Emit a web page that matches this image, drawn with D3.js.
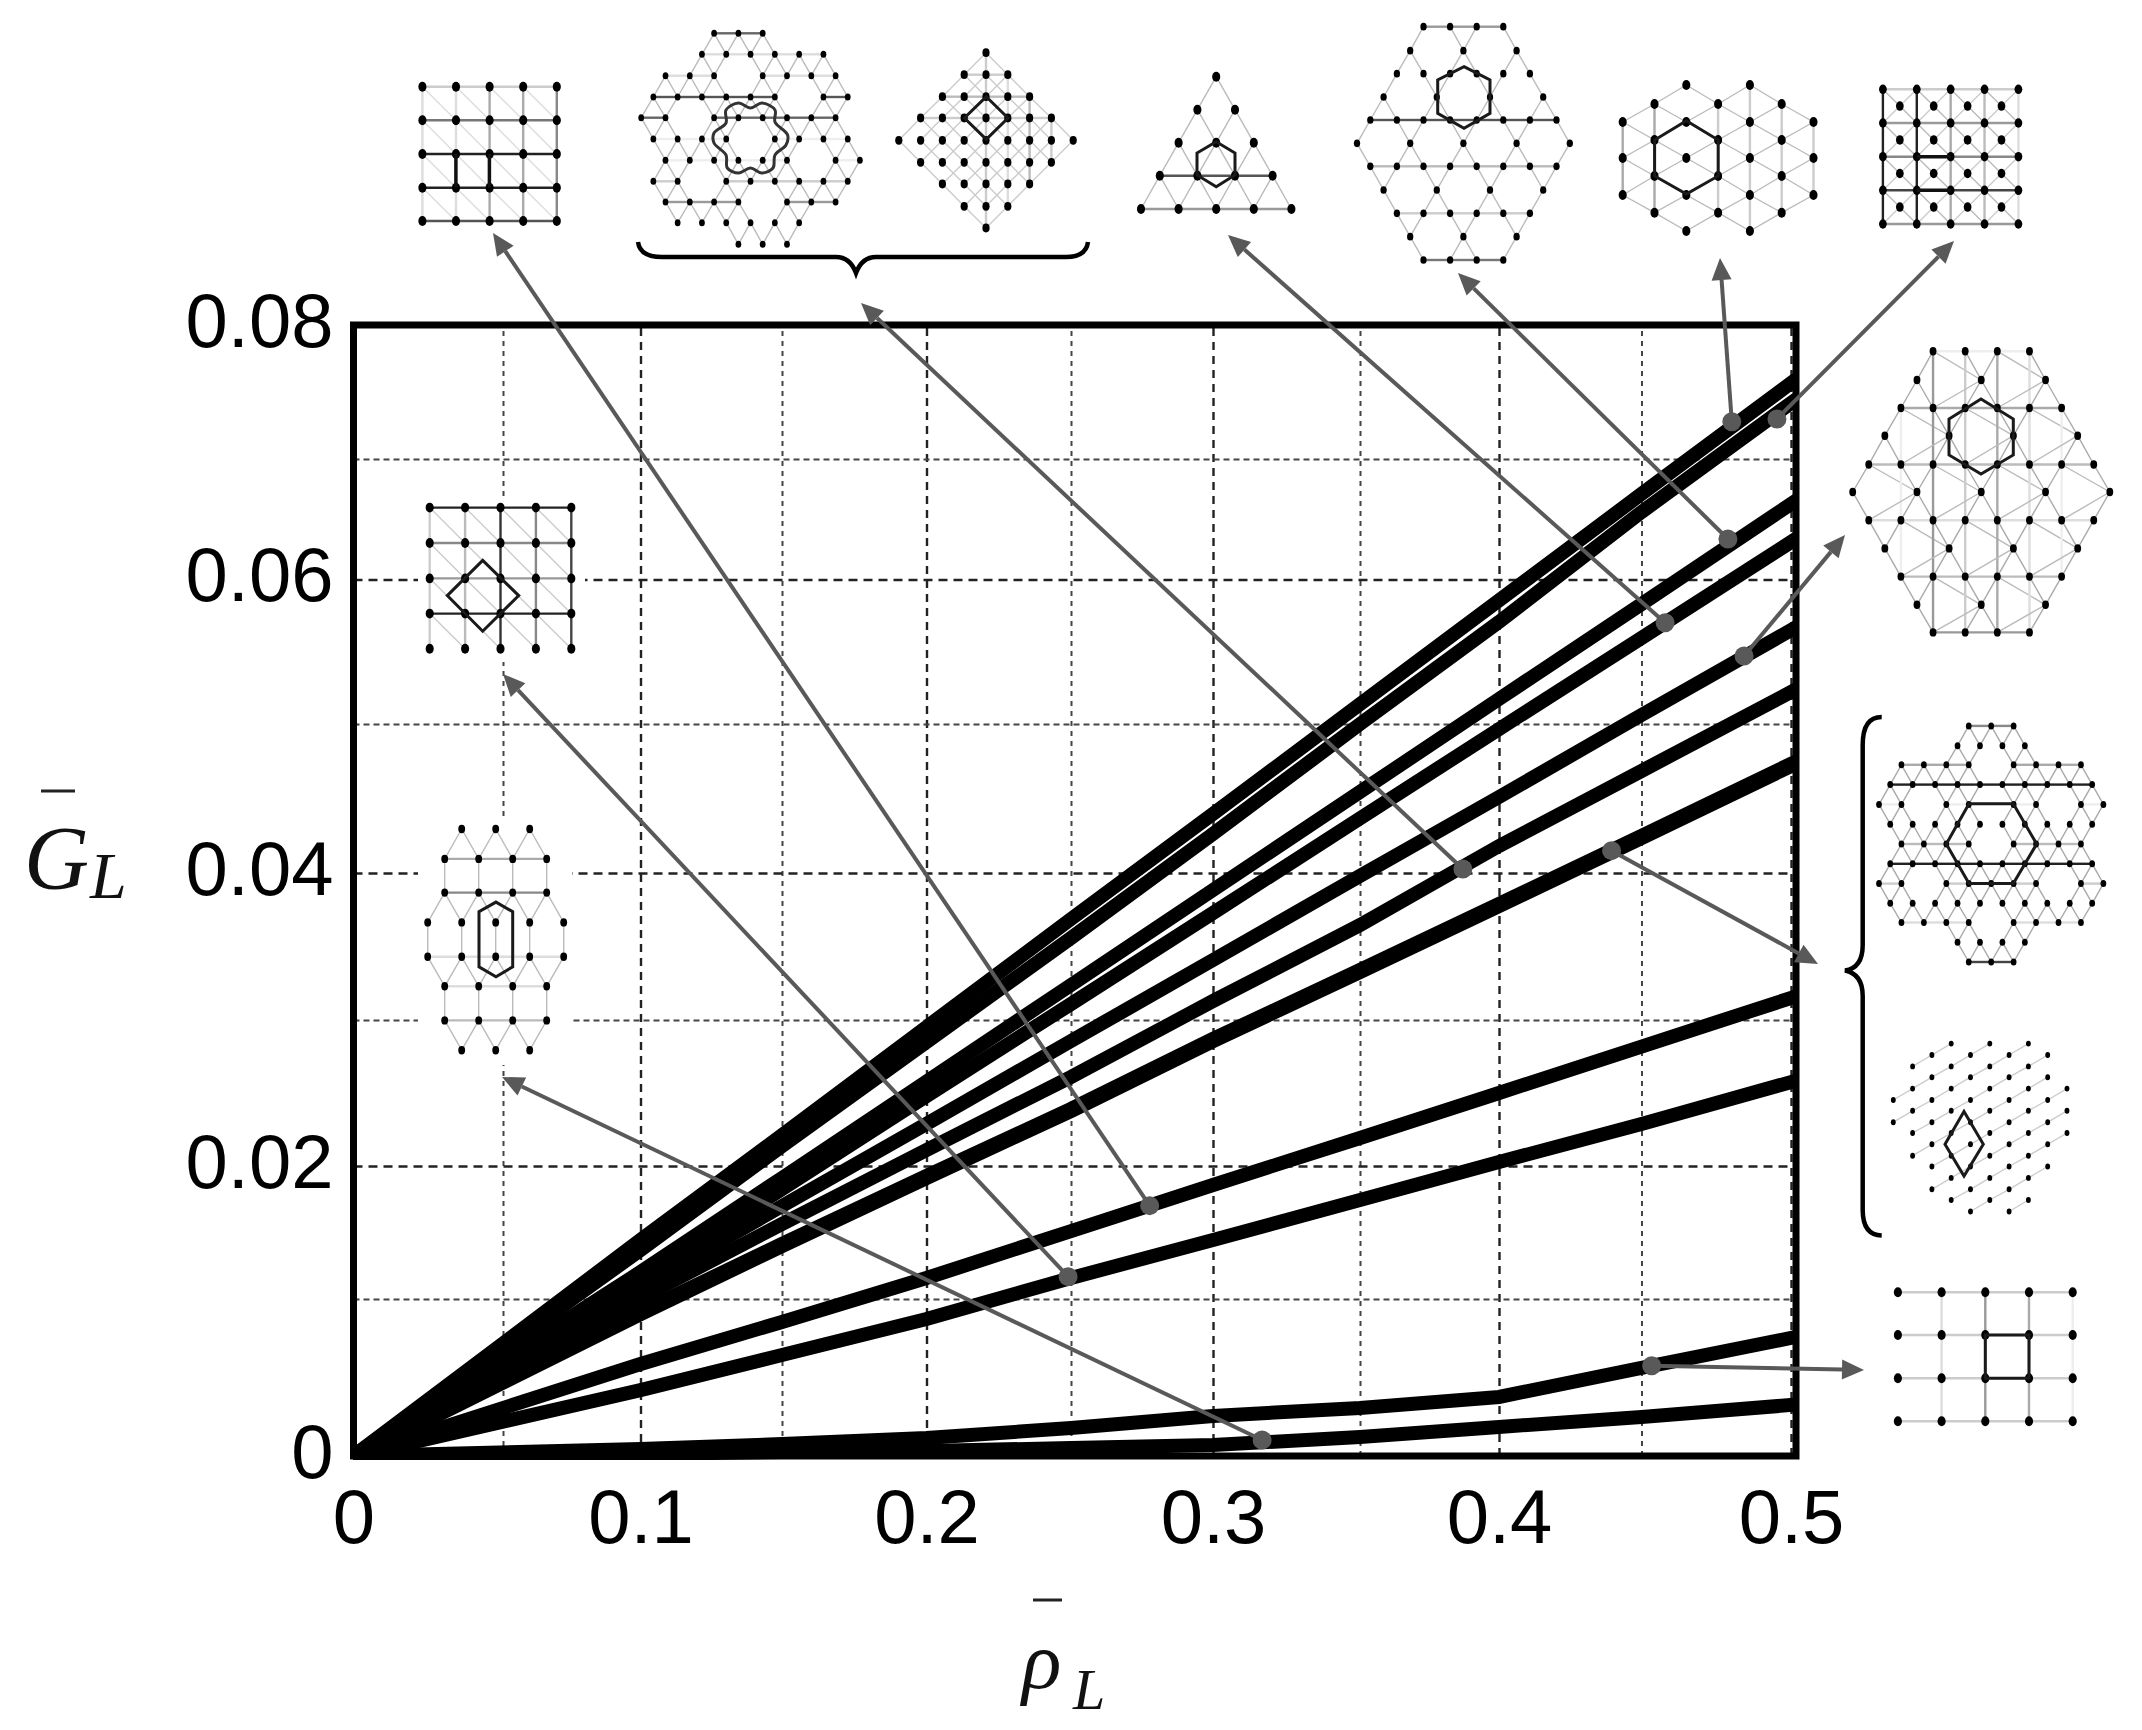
<!DOCTYPE html>
<html>
<head>
<meta charset="utf-8">
<script src="https://cdn.jsdelivr.net/npm/d3@7"></script>
<style>
  body { margin: 0; background: #fff; }
  svg { display: block; }
  .tick text { font-family: "Liberation Sans", Arial, sans-serif; font-size: 76px; fill: #000; }
  .sym { font-family: "Liberation Serif", serif; font-style: italic; fill: #111; }
</style>
</head>
<body>
<div id="chart"></div>
<script>
// axis ticks, the original axes are not evenly spaced so the scales are piecewise
const xTicks = [0, 0.05, 0.1, 0.15, 0.2, 0.25, 0.3, 0.35, 0.4, 0.45, 0.5];
const xTickLabels = ["0", "", "0.1", "", "0.2", "", "0.3", "", "0.4", "", "0.5"];
const yTicks = [0, 0.01, 0.02, 0.03, 0.04, 0.05, 0.06, 0.07, 0.08];
const yTickLabels = ["0", "", "0.02", "", "0.04", "", "0.06", "", "0.08"];

// rho values shared by all the curves
const rhoValues = [0, 0.1, 0.15, 0.2, 0.25, 0.3, 0.35, 0.4, 0.45, 0.5];

// G values, top curve first
const curve1 = [0, 0.01444, 0.02212, 0.02952, 0.03687, 0.04396, 0.05138, 0.05855, 0.0671, 0.07567];
const curve2 = [0, 0.01368, 0.02137, 0.02849, 0.03558, 0.04262, 0.05, 0.05706, 0.0656, 0.07418];
const curve3 = [0, 0.01203, 0.0191, 0.02579, 0.03238, 0.03884, 0.04544, 0.05173, 0.0583, 0.06627];
const curve4 = [0, 0.01143, 0.01827, 0.02479, 0.03109, 0.03728, 0.04366, 0.04966, 0.05595, 0.06311];
const curve5 = [0, 0.0109, 0.01699, 0.02288, 0.02856, 0.03408, 0.0398, 0.0451, 0.05062, 0.0565];
const curve6 = [0, 0.01008, 0.01564, 0.0211, 0.0261, 0.03129, 0.03646, 0.04181, 0.04685, 0.05221];
const curve7 = [0, 0.00911, 0.01406, 0.01917, 0.02384, 0.02863, 0.03333, 0.03782, 0.04242, 0.04725];
const curve8 = [0, 0.00586, 0.00854, 0.01158, 0.01511, 0.01857, 0.02192, 0.025, 0.02818, 0.0315];
const curve9 = [0, 0.0042, 0.00643, 0.00873, 0.01158, 0.01444, 0.01744, 0.02027, 0.02288, 0.02575];
const curve10 = [0, 0.00045, 0.00076, 0.00115, 0.00178, 0.00255, 0.00306, 0.00376, 0.00561, 0.00752];
const curve11 = [0, 0.00013, 0.00025, 0.00032, 0.00051, 0.0007, 0.00121, 0.00185, 0.00248, 0.00325];
const curves = [curve1, curve2, curve3, curve4, curve5, curve6, curve7, curve8, curve9, curve10, curve11];

// marked points on the curves
const markerRho = [0.4802, 0.4953, 0.4789, 0.4579, 0.4843, 0.387, 0.4395, 0.2777, 0.249, 0.3167, 0.4534];
const markerG = [0.07278, 0.07299, 0.06336, 0.05701, 0.05471, 0.04027, 0.0415, 0.01702, 0.01168, 0.00102, 0.00575];
// where each marker's arrow ends, page pixels
const arrowTips = [[1720, 258], [1954, 241], [1458, 273], [1228, 235], [1845, 535], [861, 303],
  [1818, 964], [493, 233], [503, 674], [502, 1077], [1864, 1370]];

const svg = d3.select("#chart").append("svg").attr("width", 2142).attr("height", 1730);

const x = d3.scaleLinear().domain(xTicks)
  .range([353.5, 503, 640.5, 782, 926.5, 1071, 1213, 1360, 1499, 1641.5, 1791]);
const y = d3.scaleLinear().domain(yTicks)
  .range([1456, 1299, 1166, 1020, 873, 724, 579.5, 459, 325]);

const plotTop = y(0.08), plotBottom = y(0), plotLeft = x(0), plotRight = x(0.5) + 5;

// grid comes from the axes' own tick lines
const xAxis = svg.append("g").attr("transform", `translate(0,${plotBottom})`)
  .call(d3.axisBottom(x).tickValues(xTicks).tickSize(-(plotBottom - plotTop))
    .tickFormat((d, i) => xTickLabels[i]));
const yAxis = svg.append("g").attr("transform", `translate(${plotLeft},0)`)
  .call(d3.axisLeft(y).tickValues(yTicks).tickSize(-(x(0.5) - plotLeft))
    .tickFormat((d, i) => yTickLabels[i]));
xAxis.select(".domain").remove();
yAxis.select(".domain").remove();

xAxis.selectAll(".tick line")
  .attr("stroke", (d, i) => i % 2 ? "#444" : "#222")
  .attr("stroke-width", (d, i) => i % 2 ? 2 : 2.4)
  .attr("stroke-dasharray", (d, i) => i % 2 ? "5 5" : "8 6");
yAxis.selectAll(".tick line")
  .attr("stroke", (d, i) => i % 2 ? "#444" : "#222")
  .attr("stroke-width", (d, i) => i % 2 ? 2 : 2.4)
  .attr("stroke-dasharray", (d, i) => i % 2 ? "6 4" : "9 6");
xAxis.selectAll(".tick text").attr("y", 87).attr("dy", 0);
yAxis.selectAll(".tick text").attr("x", -20).attr("dy", 0).attr("y", 21).attr("text-anchor", "end");

// the two inset lattices inside the plot sit on white patches
const insetPatches = [[418, 497, 167, 165], [418, 819, 154, 246]];
svg.append("g").selectAll("rect").data(insetPatches).join("rect")
  .attr("x", d => d[0]).attr("y", d => d[1]).attr("width", d => d[2]).attr("height", d => d[3])
  .attr("fill", "#fff");

svg.append("clipPath").attr("id", "plot-clip").append("rect")
  .attr("x", plotLeft).attr("y", plotTop).attr("width", plotRight - plotLeft).attr("height", plotBottom - plotTop + 4);

const line = d3.line().x((d, i) => x(rhoValues[i])).y(d => y(d));
svg.append("g").attr("clip-path", "url(#plot-clip)")
  .selectAll("path").data(curves).join("path")
  .attr("d", line)
  .attr("fill", "none")
  .attr("stroke", "#000")
  .attr("stroke-width", (d, i) => i === 6 ? 16 : 14)
  .attr("stroke-linecap", "square");

svg.append("rect")
  .attr("x", plotLeft).attr("y", plotTop)
  .attr("width", plotRight - plotLeft).attr("height", plotBottom - plotTop)
  .attr("fill", "none").attr("stroke", "#000").attr("stroke-width", 7);

// lattice insets: rows of node columns, links by column/row step
const insets = [
  { // top left, square lattice
    x0: 422.4, dx: 33.6, ys: [86.7, 120.3, 154, 187.7, 221], r: 4.5,
    rows: [[0, 1, 2, 3, 4], [0, 1, 2, 3, 4], [0, 1, 2, 3, 4], [0, 1, 2, 3, 4], [0, 1, 2, 3, 4]],
    steps: [[1, 1, "#ddd"]],
    rowStep: 1, rowColors: ["#ccc", "#777", "#222", "#222", "#555"],
    colStep: 1, colColors: ["#ddd", "#ddd", "#aaa", "#aaa", "#888"],
    thick: [[[455.9, 154], [455.9, 187.7]], [[489.4, 154], [489.4, 187.7]]]
  },
  { // wide hexagon with wavy ring
    x0: 641.2, dx: 12.15, ys: [33.3, 54.3, 75.7, 97, 117.7, 139, 160.3, 181.3, 202, 222.7, 244.3], r: 3.2,
    rows: [[6, 8, 10], [5, 7, 9, 11, 13, 15], [2, 4, 6, 10, 12, 14, 16], [1, 3, 5, 7, 9, 11, 15, 17],
      [0, 2, 6, 8, 10, 12, 14, 16], [1, 3, 5, 7, 11, 13, 15, 17], [2, 4, 6, 8, 10, 12, 16, 18],
      [1, 3, 7, 9, 11, 13, 15, 17], [2, 4, 6, 8, 12, 14, 16], [3, 5, 7, 9, 11, 13], [8, 10, 12]],
    steps: [[1, 1, "#bbb"], [-1, 1, "#bbb"]],
    rowStep: 2, rowColors: ["#666", "#ddd", "#ddd", "#555", "#666", "#eee", "#eee", "#ccc", "#999", null, null],
    ring: [[738.5, 103], [750.5, 108], [762, 103], [775, 110], [775, 122], [787.6, 135], [786, 145], [775, 155],
      [773, 168], [761.7, 173], [750.5, 168], [738.5, 173], [727.3, 168], [726, 155], [714, 143], [714, 133],
      [726, 123], [726, 110]]
  },
  { // diamond
    x0: 898.8, dx: 21.8, ys: [52.7, 74.7, 96.7, 118, 140.3, 162.3, 184, 206.3, 228], r: 4,
    rows: [[4], [3, 4, 5], [2, 3, 4, 5, 6], [1, 2, 3, 4, 5, 6, 7], [0, 1, 2, 3, 4, 5, 6, 7, 8],
      [1, 2, 3, 4, 5, 6, 7], [2, 3, 4, 5, 6], [3, 4, 5], [4]],
    steps: [[1, 1, "#ccc"], [-1, 1, "#ccc"]],
    rowStep: 1, rowColors: [null, "#ccc", "#bbb", "#ccc", null, null, null, null, null],
    colStep: 1, colColors: [null, null, null, null, "#ccc", "#ddd", "#bbb", "#ccc", null],
    poly: [[986.3, 96.7], [1008, 118], [986.3, 139.3], [964.4, 118]]
  },
  { // triangle
    x0: 1141, dx: 18.8, ys: [76.7, 109.7, 142.7, 175.7, 209], r: 4.5,
    rows: [[4], [3, 5], [2, 4, 6], [1, 3, 5, 7], [0, 2, 4, 6, 8]],
    steps: [[1, 1, "#bbb"], [-1, 1, "#bbb"]],
    rowStep: 2, rowColors: [null, null, null, "#555", "#999"],
    poly: [[1216.2, 141.7], [1235, 153], [1235, 175], [1216.2, 186.7], [1197, 175], [1197, 153]]
  },
  { // star of hexagons
    x0: 1357, dx: 13.3, ys: [26.7, 50.7, 73.7, 97, 120, 143.3, 166.3, 190, 213.3, 236.7, 260], r: 3.5,
    rows: [[5, 7, 9, 11], [4, 8, 12], [3, 5, 7, 9, 11, 13], [2, 6, 10, 14], [1, 3, 5, 7, 9, 11, 13, 15],
      [0, 4, 8, 12, 16], [1, 3, 5, 7, 9, 11, 13, 15], [2, 6, 10, 14], [3, 5, 7, 9, 11, 13], [4, 8, 12], [5, 7, 9, 11]],
    steps: [[1, 1, "#bbb"], [-1, 1, "#bbb"]],
    rowStep: 2, rowColors: ["#999", null, null, null, "#555", null, "#bbb", null, "#ccc", null, "#777"],
    poly: [[1464, 66.7], [1490, 80], [1490, 113.3], [1464, 128.3], [1437.7, 113.3], [1437.7, 80]]
  },
  { // hexagon, rhombic
    x0: 1622.7, dx: 31.8, ys: [85, 104, 122, 140, 158, 176, 195, 212.7, 231], r: 4.5,
    rows: [[2, 4], [1, 3, 5], [0, 2, 4, 6], [1, 3, 5], [0, 2, 4, 6], [1, 3, 5], [0, 2, 4, 6], [1, 3, 5], [2, 4]],
    steps: [[1, 1, "#bbb"], [-1, 1, "#bbb"]],
    colStep: 2, colColors: ["#aaa", "#aaa", null, "#ccc", "#ccc", "#ccc", "#ccc"],
    poly: [[1686.4, 120.7], [1718.2, 140], [1718.2, 176], [1686.4, 194], [1654.6, 176], [1654.6, 140]]
  },
  { // top right, square with centres
    x0: 1882.9, dx: 16.94, ys: [89.3, 106.1, 123, 139.9, 156.7, 173.5, 190.3, 207.1, 224], r: 4.3,
    rows: [[0, 2, 4, 6, 8], [1, 3, 5, 7], [0, 2, 4, 6, 8], [1, 3, 5, 7], [0, 2, 4, 6, 8], [1, 3, 5, 7],
      [0, 2, 4, 6, 8], [1, 3, 5, 7], [0, 2, 4, 6, 8]],
    steps: [[1, 1, "#bbb"], [-1, 1, "#ccc"]],
    rowStep: 2, rowColors: ["#ccc", null, "#999", null, "#888", null, "#444", null, "#999"],
    colStep: 2, colColors: ["#222", null, "#222", null, "#aaa", null, "#bbb", null, "#ddd"],
    thick: [[[1916.8, 156.7], [1950.8, 156.7]], [[1916.8, 190.3], [1950.8, 190.3]]]
  },
  { // right, large hexagon; long links only run to the left of the odd-row nodes
    x0: 1852.7, dx: 16.07, ys: [351.2, 380, 408, 435.7, 464.5, 492, 520.2, 548.4, 576.6, 604.8, 632.4], r: 3.8,
    rows: [[5, 7, 9, 11], [4, 8, 12], [3, 5, 7, 9, 11, 13], [2, 6, 10, 14], [1, 3, 5, 7, 9, 11, 13, 15],
      [0, 4, 8, 12, 16], [1, 3, 5, 7, 9, 11, 13, 15], [2, 6, 10, 14], [3, 5, 7, 9, 11, 13], [4, 8, 12], [5, 7, 9, 11]],
    steps: [[1, 1, "#aaa"], [-1, 1, "#aaa"], [3, 1, "#bbb", 0], [-3, 1, "#bbb", 1]],
    rowStep: 2, rowColors: ["#eee", null, "#aaa", null, "#bbb", null, "#ddd", null, "#bbb", null, "#999"],
    colStep: 2, colColors: [null, null, null, "#eee", null, "#999", null, "#ccc", null, "#aaa", null, "#ddd", null, "#eee", null, null, null],
    poly: [[1981, 399], [2013.3, 419], [2013.3, 455], [1981, 474], [1949, 455], [1949, 419]]
  },
  { // right, kagome-like
    x0: 1879, dx: 11.22, ys: [725.9, 745.7, 764.8, 784.6, 804.4, 824.2, 844, 863.8, 883.6, 903.3, 922.5, 942.3, 962], r: 3.2,
    rows: [[8, 10, 12], [7, 9, 11, 13], [2, 4, 6, 8, 12, 14, 16, 18], [1, 3, 5, 7, 9, 11, 13, 15, 17, 19],
      [0, 2, 6, 8, 12, 14, 18, 20], [1, 3, 5, 7, 9, 11, 13, 15, 17, 19], [2, 4, 6, 8, 12, 14, 16, 18],
      [1, 3, 5, 7, 9, 11, 13, 15, 17, 19], [0, 2, 6, 8, 10, 12, 14, 18, 20], [1, 3, 5, 7, 9, 11, 13, 15, 17, 19],
      [2, 4, 6, 8, 12, 14, 16, 18], [7, 9, 11, 13], [8, 10, 12]],
    steps: [[1, 1, "#aaa"], [-1, 1, "#aaa"]],
    rowStep: 2, rowColors: ["#888", null, "#aaa", "#222", "#eee", null, "#bbb", "#222", "#ccc", null, "#ddd", null, "#444"],
    poly: [[1969, 803.8], [2013.3, 803.8], [2036.7, 844], [2013.3, 883.6], [1969, 883.6], [1946.3, 844]]
  },
  { // right, sparse
    x0: 1893.3, dx: 19.3,
    ys: [1043.6, 1055, 1066.4, 1077.2, 1088.6, 1100, 1110.8, 1122.2, 1133, 1144.3, 1155.7, 1166.5, 1177.9, 1189.3, 1200, 1211.5],
    r: 2.7,
    rows: [[3, 5, 7], [2, 4, 6, 8], [1, 3, 5, 7], [2, 4, 6, 8], [1, 3, 5, 7, 9], [0, 2, 4, 6, 8], [1, 3, 5, 7, 9],
      [0, 2, 4, 6, 8], [1, 3, 5, 7, 9], [2, 4, 6, 8], [1, 3, 5, 7], [2, 4, 6, 8], [3, 5, 7], [2, 4, 6], [3, 5, 7], [4, 6]],
    steps: [[1, -1, "#ccc"]],
    poly: [[1964, 1111.4], [1983.3, 1144.3], [1964, 1176], [1945, 1144.3]]
  },
  { // bottom right, square lattice
    x0: 1897.9, dx: 43.7, ys: [1292.3, 1335, 1378.3, 1421.3], r: 4.5,
    rows: [[0, 1, 2, 3, 4], [0, 1, 2, 3, 4], [0, 1, 2, 3, 4], [0, 1, 2, 3, 4]],
    steps: [],
    rowStep: 1, rowColors: ["#ccc", "#ccc", "#ccc", "#ccc"],
    colStep: 1, colColors: [null, "#ddd", "#999", "#aaa", "#eee"],
    poly: [[1985.3, 1335], [2029, 1335], [2029, 1378.3], [1985.3, 1378.3]]
  },
  { // in the plot, upper
    x0: 429.7, dx: 35.4, ys: [507.6, 543, 578.4, 613.6, 648.8], r: 4.5,
    rows: [[0, 1, 2, 3, 4], [0, 1, 2, 3, 4], [0, 1, 2, 3, 4], [0, 1, 2, 3, 4], [0, 1, 2, 3, 4]],
    steps: [[1, 1, "#ccc"]],
    rowStep: 1, rowColors: ["#222", "#888", "#999", "#222", null],
    colStep: 1, colColors: ["#ccc", "#bbb", "#333", "#888", "#444"],
    poly: [[482.7, 560.4], [518.7, 595.6], [482.7, 631.2], [447.3, 595.6]]
  },
  { // in the plot, lower
    x0: 427.7, dx: 17, ys: [829, 858.9, 892.6, 922.4, 956.8, 986.3, 1020.4, 1050.2], r: 3.8,
    rows: [[2, 4, 6], [1, 3, 5, 7], [1, 3, 5, 7], [0, 2, 4, 6, 8], [0, 2, 4, 6, 8], [1, 3, 5, 7], [1, 3, 5, 7], [2, 4, 6]],
    steps: [[1, 1, "#bbb"], [-1, 1, "#bbb"], [0, 1, "#bbb"]],
    rowStep: 2, rowColors: [null, "#aaa", "#888", null, "#ddd", "#ddd", "#bbb", null],
    poly: [[496, 902.1], [512.7, 911.7], [512.7, 966.8], [496, 976.7], [479, 966.8], [479, 911.7]]
  }
];

function drawInset(spec) {
  const g = svg.append("g");
  const px = c => spec.x0 + c * spec.dx;
  const has = (r, c) => spec.rows[r] && spec.rows[r].includes(c);
  const links = [];
  spec.rows.forEach((cols, r) => cols.forEach(c => {
    // a fourth entry limits the step to even (0) or odd (1) rows
    spec.steps.forEach(([dc, dr, color, parity]) => {
      if (parity !== undefined && r % 2 !== parity) return;
      if (has(r + dr, c + dc)) links.push([c, r, c + dc, r + dr, color, 1.4]);
    });
    if (spec.rowColors && spec.rowColors[r] && has(r, c + spec.rowStep)) {
      links.push([c, r, c + spec.rowStep, r, spec.rowColors[r], 2.4]);
    }
    if (spec.colColors && spec.colColors[c] && has(r + spec.colStep, c)) {
      links.push([c, r, c, r + spec.colStep, spec.colColors[c], 2.4]);
    }
  }));
  g.selectAll(".link").data(links).join("line").attr("class", "link")
    .attr("x1", d => px(d[0])).attr("y1", d => spec.ys[d[1]])
    .attr("x2", d => px(d[2])).attr("y2", d => spec.ys[d[3]])
    .attr("stroke", d => d[4]).attr("stroke-width", d => d[5]);

  g.selectAll(".node").data(spec.rows.flatMap((cols, r) => cols.map(c => [c, r]))).join("ellipse")
    .attr("class", "node")
    .attr("cx", d => px(d[0])).attr("cy", d => spec.ys[d[1]])
    .attr("rx", spec.r * 0.9).attr("ry", spec.r * 1.1)
    .attr("fill", "#000");

  if (spec.poly) {
    g.append("path").attr("d", d3.line().curve(d3.curveLinearClosed)(spec.poly))
      .attr("fill", "none").attr("stroke", "#1a1a1a").attr("stroke-width", 3);
  }
  if (spec.ring) {
    g.append("path").attr("d", d3.line().curve(d3.curveCatmullRomClosed)(spec.ring))
      .attr("fill", "none").attr("stroke", "#333").attr("stroke-width", 3);
  }
  (spec.thick || []).forEach(seg => {
    g.append("path").attr("d", d3.line()(seg))
      .attr("fill", "none").attr("stroke", "#111").attr("stroke-width", 3.5);
  });
}
insets.forEach(drawInset);

// braces grouping insets
const braces = [
  "M638,242 Q640,257 662,257 L836,257 Q850,257 856,273 Q862,257 876,257 L1066,257 Q1086,257 1088,242",
  "M1881.7,717 Q1862.7,717 1862.7,745 L1862.7,945 Q1862.7,968 1845,970.5 Q1862.7,974 1862.7,996 L1862.7,1210 Q1862.7,1235 1881.7,1235.5"
];
svg.append("g").selectAll("path").data(braces).join("path")
  .attr("d", d => d).attr("fill", "none").attr("stroke", "#000").attr("stroke-width", 4.5);

// pointers from the curves up to the insets
const arrowColor = "#595959";
const pointers = svg.append("g");
markerRho.forEach((rho, i) => {
  const sx = x(rho), sy = y(markerG[i]);
  const [tx, ty] = arrowTips[i];
  const a = Math.atan2(ty - sy, tx - sx);
  const headLen = 22, headHalf = 10;
  const bx = tx - headLen * Math.cos(a), by = ty - headLen * Math.sin(a);
  pointers.append("line")
    .attr("x1", sx).attr("y1", sy).attr("x2", bx).attr("y2", by)
    .attr("stroke", arrowColor).attr("stroke-width", 4);
  pointers.append("path")
    .attr("d", d3.line().curve(d3.curveLinearClosed)([
      [tx, ty],
      [bx - headHalf * Math.sin(a), by + headHalf * Math.cos(a)],
      [bx + headHalf * Math.sin(a), by - headHalf * Math.cos(a)]
    ]))
    .attr("fill", arrowColor);
  pointers.append("circle").attr("cx", sx).attr("cy", sy).attr("r", 9.5).attr("fill", arrowColor);
});

// axis symbols
const symbols = svg.append("g");
symbols.append("text").attr("class", "sym").attr("x", 24).attr("y", 889).attr("font-size", 90).text("G");
symbols.append("text").attr("class", "sym").attr("x", 90).attr("y", 898).attr("font-size", 66).text("L");
symbols.append("text").attr("class", "sym").attr("x", 1022).attr("y", 1688).attr("font-size", 82).text("ρ");
symbols.append("text").attr("class", "sym").attr("x", 1073).attr("y", 1709).attr("font-size", 58).text("L");
const overbars = [[41, 75, 791], [1033, 1062, 1600]];
symbols.selectAll("line").data(overbars).join("line")
  .attr("x1", d => d[0]).attr("x2", d => d[1]).attr("y1", d => d[2]).attr("y2", d => d[2])
  .attr("stroke", "#222").attr("stroke-width", 3);
</script>
</body>
</html>
